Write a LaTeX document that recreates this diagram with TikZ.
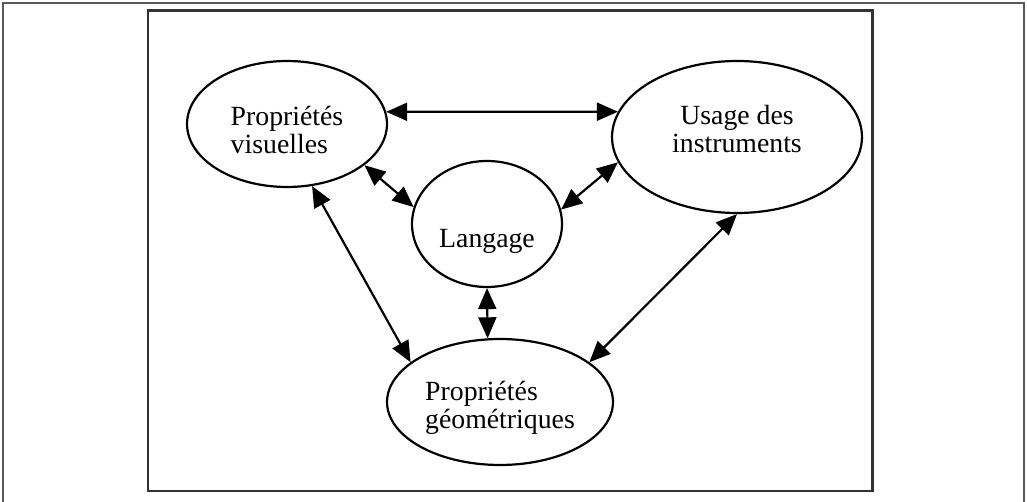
\documentclass[tikz,border=0pt]{standalone}
\usepackage{fontspec}
\setmainfont{Liberation Serif}
\usetikzlibrary{shapes.geometric, arrows.meta}

\begin{document}
\begin{tikzpicture}[
            x = 0.02cm, y = -0.02cm, % one unit per pixel, y downwards
            bubble/.style={ellipse, draw=black, line width=1.25pt, inner sep=0pt,
                font=\fontsize{15.8}{16}\selectfont},
            link/.style={{Triangle[length=0.42cm, width=0.36cm]}-{Triangle[length=0.42cm, width=0.36cm]},
                line width=1.25pt},
            frame/.style={draw=black!80, line width=1.7pt}
        ]

        \useasboundingbox (0,0) rectangle (1027,502);

        % page border and figure frame
        \draw[black!65, line width=0.85pt] (3,502) -- (3,3) -- (1024,3) -- (1024,502);
        \draw[frame] (148,11) rectangle (872,491);

        % the four poles
        \node[bubble, minimum width=4cm, minimum height=2.52cm, align=left, text height=1.2cm] (visual) at (287,124) {Propriétés\\visuelles};
        \node[bubble, minimum width=5cm, minimum height=3.04cm, align=center, text depth=0.34cm] (instr) at (737,137) {Usage des\\instruments};
        \node[bubble, minimum width=3cm, minimum height=2.52cm, text height=1.1cm, text depth=0.15cm] (lang) at (487,224) {Langage};
        \node[bubble, minimum width=4.52cm, minimum height=2.52cm, align=left, text height=1.2cm] (geom) at (500,402) {Propriétés\\géométriques};

        % links between the poles
        \draw[link] (visual.7) -- (instr.168);
        \draw[link] (visual.-28) -- (lang.167);
        \draw[link] (instr.192) -- (lang.11);
        \draw[link] (lang.south) -- (geom.101);
        \draw[link] (visual.-68) -- (geom.156);
        \draw[link] (instr.south) -- (geom.24);

    \end{tikzpicture}
\end{document}
